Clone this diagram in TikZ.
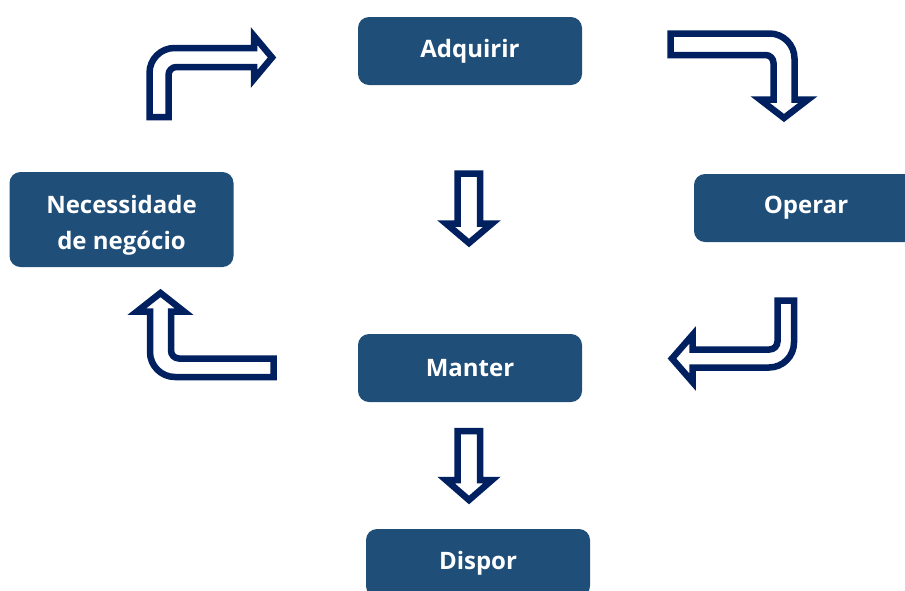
\documentclass[tikz,border=0pt]{standalone}
\usepackage{fontspec}
\setmainfont{Open Sans}
\definecolor{boxblue}{HTML}{1F4E79}
\definecolor{arrownavy}{HTML}{002060}
\tikzset{
  stage/.style={fill=boxblue, rounded corners=11pt, minimum width=224pt, minimum height=68pt,
    text=white, font=\fontsize{24}{36}\selectfont\bfseries, align=center, inner sep=0pt},
  blockarrow/.style={draw=arrownavy, line width=6.5pt, fill=white, line join=miter}
}
\begin{document}
\begin{tikzpicture}[x=1pt, y=-1pt] % one unit = one pixel, y downwards
    \useasboundingbox (0,0) rectangle (905,590);
    % Draw stages
    \node[stage] (adquirir) at (470,51) {Adquirir};
    \node[stage, minimum height=95pt] (necessidade) at (121.5,219.5) {\rule{0pt}{29pt}Necessidade\\de negócio};
    \node[stage] (operar) at (806,208) {Operar};
    \node[stage] (manter) at (470,368) {Manter};
    \node[stage] (dispor) at (478,563) {Dispor};
    % Draw bent arrow: necessidade -> adquirir
    \draw[blockarrow] (149.5,117) -- (149.5,73) arc (180:270:25) -- (254,48) -- (254,36)
        -- (272,57.5) -- (254,79) -- (254,67) -- (176.5,67) arc (270:180:8) -- (168.5,117) -- cycle;
    % Draw bent arrow: adquirir -> operar
    \draw[blockarrow] (670.5,33.5) -- (769.5,33.5) arc (270:360:25) -- (794.5,99.5) -- (808,99.5)
        -- (784,118) -- (760,99.5) -- (773.5,99.5) -- (773.5,63) arc (0:-90:8) -- (670.5,55) -- cycle;
    % Draw bent arrow: operar -> manter
    \draw[blockarrow] (777.5,300.5) -- (794,300.5) -- (794,342.5) arc (0:90:25) -- (692.5,367.5)
        -- (692.5,382) -- (672,358.5) -- (692.5,335) -- (692.5,349.5) -- (769.5,349.5) arc (90:0:8) -- cycle;
    % Draw bent arrow: manter -> necessidade
    \draw[blockarrow] (273.5,358.5) -- (273.5,377) -- (175,377) arc (90:180:25) -- (150,311.5)
        -- (137,311.5) -- (160.5,293) -- (184,311.5) -- (171,311.5) -- (171,350.5) arc (180:90:8) -- cycle;
    % Draw straight arrows
    \draw[blockarrow] (457.5,173.5) -- (480,173.5) -- (480,223.5) -- (492,223.5) -- (469,243)
        -- (446,223.5) -- (457.5,223.5) -- cycle;
    \draw[blockarrow] (457.5,431) -- (480,431) -- (480,480) -- (492,480) -- (469,500)
        -- (446,480) -- (457.5,480) -- cycle;
\end{tikzpicture}
\end{document}
